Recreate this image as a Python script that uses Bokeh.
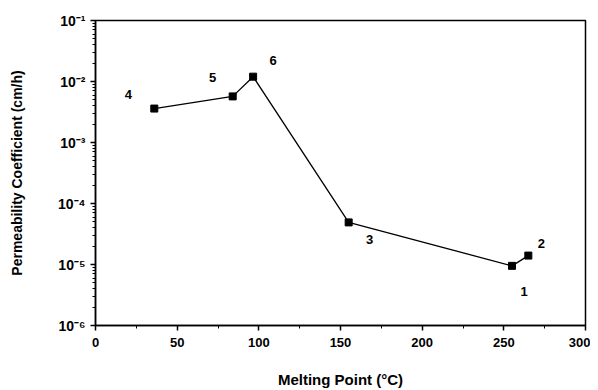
from bokeh.plotting import figure
from bokeh.models import Range1d, FixedTicker, ColumnDataSource
from bokeh.embed import file_html
from bokeh.resources import INLINE

labels = ["4", "5", "6", "3", "1", "2"]
melting_point = [36, 84, 96.5, 155, 255, 265]
permeability = [3.6e-3, 5.7e-3, 1.2e-2, 4.9e-5, 9.5e-6, 1.4e-5]
label_dx = [-26, -20, 20, 21, 12, 13]
label_dy = [14, 19, 16, -17, -26, 12]

x_ticks = [0, 50, 100, 150, 200, 250, 300]
y_ticks = [1e-6, 1e-5, 1e-4, 1e-3, 1e-2, 1e-1]
y_tick_labels = ["10⁻⁶", "10⁻⁵", "10⁻⁴", "10⁻³", "10⁻²", "10⁻¹"]

FONT = "Liberation Sans"

p = figure(width=590, height=390, output_backend="svg", toolbar_location=None,
           y_axis_type="log", x_range=Range1d(0, 300), y_range=Range1d(1e-6, 1e-1),
           min_border_left=95, min_border_right=5, min_border_top=20, min_border_bottom=63)

src = ColumnDataSource(dict(x=melting_point, y=permeability, t=labels,
                            dx=label_dx, dy=[-d for d in label_dy]))
p.line("x", "y", source=src, line_color="black", line_width=1.3)
p.scatter("x", "y", source=src, marker="square", size=7, fill_color="black", line_color="black")
p.text("x", "y", text="t", source=src, x_offset="dx", y_offset="dy",
       text_align="center", text_baseline="middle", text_font_size="13px",
       text_font_style="bold", text_color="black", text_font={"value": FONT})

p.xgrid.visible = False
p.ygrid.visible = False
p.outline_line_color = "black"
p.outline_line_width = 1.5

p.xaxis.ticker = FixedTicker(ticks=x_ticks, minor_ticks=[25, 75, 125, 175, 225, 275])
p.yaxis.ticker = FixedTicker(ticks=y_ticks,
                             minor_ticks=[m * 10.0 ** e for e in range(-6, -1) for m in range(2, 10)])
p.yaxis.major_label_overrides = {t: l for t, l in zip(y_ticks, y_tick_labels)}

for ax in (p.xaxis, p.yaxis):
    ax.axis_line_width = 1.5
    ax.major_tick_line_width = 1.5
    ax.major_tick_out = 5
    ax.major_tick_in = 0
    ax.minor_tick_out = 3
    ax.minor_tick_in = 0
    ax.major_label_text_font = FONT
    ax.major_label_text_font_style = "bold"
    ax.major_label_text_font_size = "13px"
    ax.major_label_text_color = "black"
    ax.axis_label_text_font = FONT
    ax.axis_label_text_font_style = "bold"
    ax.axis_label_text_color = "black"

p.yaxis.major_label_text_font_size = "14px"
p.xaxis.axis_label = "Melting Point (°C)"
p.xaxis.axis_label_text_font_size = "15px"
p.xaxis.axis_label_standoff = 21
p.xaxis.major_label_standoff = 7
p.yaxis.axis_label = "Permeability Coefficient (cm/h)"
p.yaxis.axis_label_text_font_size = "14px"
p.yaxis.axis_label_standoff = 30
p.yaxis.major_label_standoff = 5

open("out.html", "w").write(file_html(p, INLINE))
